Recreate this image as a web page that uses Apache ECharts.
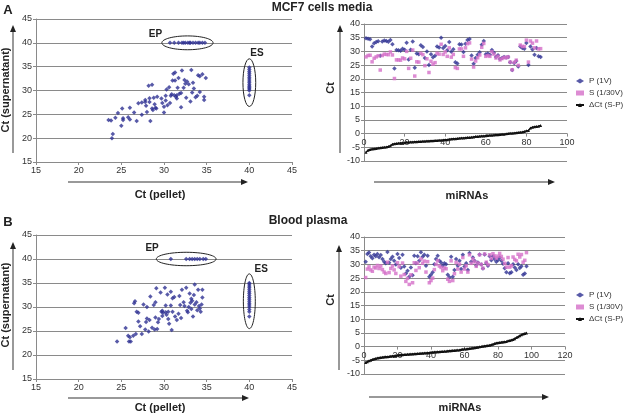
<!DOCTYPE html>
<html>
<head>
<meta charset="utf-8">
<script src="https://cdn.jsdelivr.net/npm/echarts@6.0.0/dist/echarts.min.js"></script>
<style>
html, body { margin: 0; padding: 0; background: #fff; }
#main { width: 625px; height: 418px; }
</style>
</head>
<body>
<div id="main"></div>
<script>
// panel A (MCF7 cells media): Ct pellet vs Ct supernatant
var scatterA = [
  [23.5,23.8],[23.8,23.7],[23.9,20.0],[24.0,20.9],[24.3,24.3],[24.6,25.3],[25.1,26.2],[25.2,24.2],[25.0,22.6],[25.2,23.8],
  [25.8,24.4],[26.0,26.4],[26.0,23.9],[26.5,25.4],[26.8,23.6],[27.0,27.3],[27.4,24.9],[27.8,27.6],[27.8,28.0],[27.9,26.8],
  [28.0,25.5],[28.2,31.0],[28.3,27.6],[28.3,28.4],[28.4,23.6],[28.6,31.2],[28.6,26.2],[28.8,28.5],[28.9,27.1],[29.0,26.4],
  [29.2,28.7],[29.1,26.2],[29.8,27.4],[30.0,25.4],[30.0,26.6],[30.2,28.9],[30.3,30.2],[30.4,26.9],[30.6,30.7],[30.7,27.4],
  [30.8,28.9],[31.0,32.1],[31.1,33.5],[31.3,33.8],[31.3,32.1],[31.4,28.7],[31.5,29.0],[31.6,30.6],[31.7,32.6],[31.8,29.3],
  [32.0,26.5],[32.1,34.2],[32.3,30.6],[32.4,32.2],[32.5,31.4],[32.6,28.5],[32.7,31.9],[32.9,31.3],[33.1,27.7],[33.2,34.3],
  [33.3,29.6],[33.4,31.6],[33.5,30.4],[33.7,28.6],[33.9,28.9],[34.0,33.2],[34.2,33.0],[34.2,29.7],[34.5,33.4],[34.7,28.0],
  [34.7,28.7],[34.9,32.6],[30.9,29.2],[31.5,28.3],[29.7,28.3],[30.2,27.9],[28.7,25.9],[27.4,27.5],[31.2,29.0],[32.0,29.5]
];
var epA = [30.7,31.2,31.7,32.1,32.3,32.5,32.8,33.0,33.1,33.4,33.7,34.0,34.2,34.5,34.8];   // Ct sup = 40
var esA = [29.0,30.0,30.3,30.6,30.9,31.2,31.6,32.0,32.4,32.8,33.2,33.6,34.0,34.4,34.8];   // Ct pellet = 40

// panel A right: per miRNA
var pA = [
  34.8,34.6,34.4,31.8,33.0,33.4,33.7,28.4,33.6,34.0,
  33.8,33.5,34.2,32.6,23.8,30.5,30.4,30.2,31.0,30.6,
  33.2,27.0,30.6,33.6,24.0,29.2,29.0,32.2,31.6,27.6,
  30.0,25.0,29.0,27.9,28.4,31.8,31.4,35.0,31.2,32.0,
  30.4,33.4,29.9,30.8,26.0,25.6,32.6,32.5,29.8,32.8,
  34.2,34.5,28.5,25.5,27.6,28.8,29.7,32.4,33.8,29.0,
  29.2,28.8,30.5,29.5,28.0,28.6,27.2,27.6,28.0,27.8,
  28.0,26.0,23.2,25.8,26.5,24.5,31.8,31.2,31.0,33.1,
  25.0,31.8,30.7,28.8,31.2,28.2,28.0
];
var sA = [
  28.0,28.5,28.6,26.2,27.5,28.0,28.4,23.2,28.5,29.0,
  28.9,28.8,29.8,28.7,20.1,26.9,26.9,26.8,27.6,27.3,
  30.0,23.8,27.5,30.5,21.0,26.2,26.1,29.3,28.8,24.8,
  27.3,22.3,26.4,25.3,25.9,29.3,29.0,32.6,28.9,29.8,
  28.2,31.3,27.9,28.9,24.1,23.8,30.9,30.9,28.2,31.3,
  32.8,33.1,27.2,24.3,26.5,27.7,28.7,31.5,32.9,28.2,
  28.5,28.2,29.9,29.0,27.6,28.2,26.9,27.4,27.8,27.7,
  28.0,26.1,23.3,26.0,26.8,24.9,32.3,31.8,31.8,34.1,
  26.1,33.8,33.0,31.3,33.8,30.9,31.0
];
var dA = [
  -6.8,-6.1,-5.8,-5.6,-5.5,-5.4,-5.3,-5.2,-5.1,-5.0,
  -4.9,-4.7,-4.4,-3.9,-3.7,-3.6,-3.5,-3.4,-3.4,-3.3,
  -3.2,-3.2,-3.1,-3.1,-3.0,-3.0,-2.9,-2.9,-2.8,-2.8,
  -2.7,-2.7,-2.6,-2.6,-2.5,-2.5,-2.4,-2.4,-2.3,-2.2,
  -2.2,-2.1,-2.0,-1.9,-1.9,-1.8,-1.7,-1.6,-1.6,-1.5,
  -1.4,-1.4,-1.3,-1.2,-1.1,-1.1,-1.0,-0.9,-0.9,-0.8,
  -0.7,-0.6,-0.6,-0.5,-0.4,-0.4,-0.3,-0.2,-0.2,-0.1,
  0.0,0.1,0.1,0.2,0.3,0.4,0.5,0.6,0.8,1.0,
  1.1,2.0,2.3,2.5,2.6,2.7,3.0
];

// panel B (Blood plasma)
var scatterB = [
  [24.5,22.8],[25.5,25.6],[25.8,24.0],[25.9,22.8],[26.0,23.7],[26.1,22.8],[26.4,24.0],[26.5,30.8],[26.6,31.2],[26.7,24.4],
  [26.8,29.0],[27.0,28.8],[27.2,26.0],[27.4,24.4],[27.6,30.5],[27.8,25.3],[27.9,26.9],[28.0,27.6],[28.2,24.9],[28.3,27.3],
  [28.4,32.2],[28.6,25.7],[28.8,30.4],[28.9,25.3],[29.0,31.0],[29.1,33.9],[29.2,25.4],[29.3,26.8],[29.4,27.5],[29.6,33.0],
  [29.7,29.0],[29.8,28.1],[29.9,28.8],[30.1,34.0],[30.2,30.3],[30.3,28.4],[30.4,32.6],[30.5,27.5],[30.6,26.5],[30.8,33.2],
  [30.9,25.2],[30.8,30.3],[31.0,29.0],[31.2,32.1],[31.5,27.3],[31.7,28.6],[31.8,32.3],[31.9,30.4],[32.0,27.7],[32.1,33.6],
  [32.3,31.0],[32.4,30.2],[32.6,34.0],[32.7,29.2],[32.8,28.9],[33.0,32.8],[33.1,30.9],[33.2,29.6],[33.3,31.3],[33.4,28.0],
  [33.6,34.7],[33.6,30.5],[33.8,31.0],[33.9,29.3],[34.0,33.6],[34.1,30.2],[34.3,29.0],[34.4,30.5],[34.5,33.6],[34.5,32.0],
  [29.8,29.2],[30.2,28.9],[31.3,28.0],[33.2,31.7],[32.9,30.0],[30.5,29.0],[28.0,30.0],[27.0,27.0],[29.0,27.8],[31.0,31.8],
  [33.5,32.5],[34.2,29.7]
];
var epB = [30.8,32.6,33.0,33.3,33.6,33.9,34.2,34.6,34.9];
var esB = [28.0,29.0,29.5,30.0,30.4,30.8,31.2,31.6,32.0,32.4,32.8,33.2,33.6,34.0,34.4,34.8,35.0];

var pB = [
  31.0,33.8,34.3,33.0,32.2,33.5,33.0,33.8,32.6,33.4,
  32.0,31.0,30.4,34.5,30.6,32.0,32.8,31.3,30.0,33.8,
  32.3,28.8,33.5,29.2,26.7,27.7,25.5,28.9,26.0,33.2,
  30.4,33.0,31.3,34.4,32.8,33.5,29.5,33.2,25.5,26.2,
  27.1,30.1,32.0,33.2,31.3,30.7,29.5,30.4,30.1,26.2,
  25.3,32.8,25.5,28.0,32.0,29.5,31.3,28.3,33.5,29.2,
  30.4,28.0,34.2,31.0,32.5,31.3,29.6,30.7,33.6,30.0,
  28.5,33.6,30.5,29.5,33.0,31.5,33.0,32.0,31.0,31.6,
  32.5,31.3,30.2,28.6,27.1,30.4,26.8,27.1,30.1,28.9,
  28.0,30.1,28.7,29.3,26.2,26.7,29.3
];
var sB = [
  25.2,28.3,29.1,28.0,27.5,29.0,28.7,29.6,28.5,29.4,
  28.1,27.2,26.7,30.8,27.0,28.5,29.4,28.0,26.7,30.6,
  29.2,25.7,30.5,26.3,23.8,24.9,22.7,26.2,23.3,30.6,
  27.8,30.5,28.8,32.0,30.4,31.2,27.2,31.0,23.3,24.1,
  25.0,28.1,30.0,31.3,29.4,28.9,27.7,28.7,28.4,24.6,
  23.8,31.3,24.1,26.6,30.7,28.3,30.1,27.2,32.5,28.3,
  29.5,27.2,33.5,30.4,32.0,30.9,29.3,30.5,33.5,30.0,
  28.6,33.8,30.8,29.9,33.5,32.2,33.9,33.1,32.3,33.0,
  34.0,32.9,31.9,30.4,29.0,32.5,29.0,29.5,32.7,31.8,
  31.3,33.7,32.7,33.6,30.8,31.5,34.3
];
var dB = [
  -5.8,-5.5,-5.2,-5.0,-4.7,-4.5,-4.3,-4.2,-4.1,-4.0,
  -3.9,-3.8,-3.7,-3.7,-3.6,-3.5,-3.4,-3.3,-3.3,-3.2,
  -3.1,-3.1,-3.0,-2.9,-2.9,-2.8,-2.8,-2.7,-2.7,-2.6,
  -2.6,-2.5,-2.5,-2.4,-2.4,-2.3,-2.3,-2.2,-2.2,-2.1,
  -2.1,-2.0,-2.0,-1.9,-1.9,-1.8,-1.8,-1.7,-1.7,-1.6,
  -1.5,-1.5,-1.4,-1.4,-1.3,-1.2,-1.2,-1.1,-1.0,-0.9,
  -0.9,-0.8,-0.7,-0.6,-0.5,-0.4,-0.3,-0.2,-0.1,0.0,
  0.1,0.2,0.3,0.4,0.5,0.7,0.9,1.1,1.3,1.4,
  1.5,1.6,1.7,1.8,1.9,2.1,2.2,2.4,2.6,2.9,
  3.3,3.6,4.0,4.3,4.6,4.8,5.0
];

var legendNames = ['P (1V)', 'S (1/30V)', 'ΔCt (S-P)'];

var NAVY = '#2e3192';
var PINK = '#d46fc8';
var GRID = '#8a8a8a';
var FONT = 'Liberation Sans, Arial, sans-serif';

function idx(arr) {
  return arr.map(function (v, i) { return [i + 1, v]; });
}
function withEllipses(pts, ep, es) {
  var out = pts.slice();
  ep.forEach(function (x) { out.push([x, 40]); });
  es.forEach(function (y) { out.push([40, y]); });
  return out;
}

// x axis; for the miRNA panels it is lifted to the y = 0 line (Excel style)
function xAx(gi, min, max, lift) {
  return {
    gridIndex: gi, type: 'value', min: min, max: max, interval: gi % 2 ? 20 : 5,
    offset: lift ? -lift : 0,
    axisLine: { onZero: false, lineStyle: { color: GRID } },
    axisTick: { show: true, length: 3, lineStyle: { color: GRID } },
    axisLabel: { fontSize: 9, color: '#333', margin: 4 },
    splitLine: { show: false }
  };
}
function yAx(gi, min, max) {
  return {
    gridIndex: gi, type: 'value', min: min, max: max, interval: 5,
    axisLine: { show: true, onZero: false, lineStyle: { color: GRID } },
    axisTick: { show: true, length: 3, lineStyle: { color: GRID } },
    axisLabel: { fontSize: 9, color: '#333', margin: 4 },
    splitLine: { show: true, lineStyle: { color: GRID, width: 1 } }
  };
}

function rightSeries(gi, p, s, d) {
  return [
    { name: legendNames[0], type: 'scatter', xAxisIndex: gi, yAxisIndex: gi, data: idx(p),
      symbol: 'diamond', symbolSize: 4.5, itemStyle: { color: NAVY } },
    { name: legendNames[1], type: 'scatter', xAxisIndex: gi, yAxisIndex: gi, data: idx(s),
      symbol: 'rect', symbolSize: 3.5, itemStyle: { color: PINK } },
    { name: legendNames[2], type: 'line', xAxisIndex: gi, yAxisIndex: gi, data: idx(d),
      symbol: 'triangle', symbolSize: 3, showSymbol: true,
      lineStyle: { color: '#111', width: 1.5 }, itemStyle: { color: '#111' } }
  ];
}

function legendAt(top) {
  return {
    orient: 'vertical', left: 575, top: top, padding: 0, itemGap: 4, itemWidth: 8, itemHeight: 5,
    textStyle: { fontSize: 8, color: '#333' },
    data: [
      { name: legendNames[0], icon: 'diamond' },
      { name: legendNames[1], icon: 'rect' },
      { name: legendNames[2] }
    ]
  };
}

function arrowUp(x, y1, y2) {
  return [
    { type: 'line', shape: { x1: x, y1: y1, x2: x, y2: y2 + 6 }, style: { stroke: '#777', lineWidth: 1.5 } },
    { type: 'polygon', shape: { points: [[x - 3, y2 + 7], [x + 3, y2 + 7], [x, y2]] }, style: { fill: '#222' } }
  ];
}
function arrowRight(y, x1, x2) {
  return [
    { type: 'line', shape: { x1: x1, y1: y, x2: x2 - 6, y2: y }, style: { stroke: '#777', lineWidth: 1.5 } },
    { type: 'polygon', shape: { points: [[x2 - 7, y - 3], [x2 - 7, y + 3], [x2, y]] }, style: { fill: '#222' } }
  ];
}
function txt(x, y, s, font, rot) {
  return { type: 'text', x: x, y: y, rotation: rot || 0,
    style: { text: s, font: font, fill: '#222', textAlign: 'center', textVerticalAlign: 'middle' } };
}

var grids = [
  { left: 36, top: 19, width: 256, height: 143 },
  { left: 364, top: 24, width: 203, height: 137 },
  { left: 36, top: 235, width: 256, height: 144 },
  { left: 364, top: 237, width: 201, height: 137 }
];

var chart = echarts.init(document.getElementById('main'));
var option = {
  animation: false,
  backgroundColor: '#fff',
  textStyle: { fontFamily: FONT },
  grid: grids,
  xAxis: [
    xAx(0, 15, 45, 0),
    xAx(1, 0, 100, grids[1].height * 10 / 50),
    xAx(2, 15, 45, 0),
    xAx(3, 0, 120, grids[3].height * 10 / 50)
  ],
  yAxis: [yAx(0, 15, 45), yAx(1, -10, 40), yAx(2, 15, 45), yAx(3, -10, 40)],
  legend: [legendAt(77), legendAt(291)],
  series: [
    { name: 'A', type: 'scatter', xAxisIndex: 0, yAxisIndex: 0, data: withEllipses(scatterA, epA, esA),
      symbol: 'diamond', symbolSize: 4.5, itemStyle: { color: NAVY } },
    { name: 'B', type: 'scatter', xAxisIndex: 2, yAxisIndex: 2, data: withEllipses(scatterB, epB, esB),
      symbol: 'diamond', symbolSize: 4.5, itemStyle: { color: NAVY } }
  ].concat(rightSeries(1, pA, sA, dA)).concat(rightSeries(3, pB, sB, dB))
};
chart.setOption(option);

// ellipses and labels placed in data units of the left scatter panels
var rings = [
  { g: 0, cx: 32.75, cy: 40, rx: 3.0, ry: 1.45 },
  { g: 0, cx: 40, cy: 31.65, rx: 0.75, ry: 5.0 },
  { g: 2, cx: 32.6, cy: 40, rx: 3.5, ry: 1.4 },
  { g: 2, cx: 40, cy: 31.2, rx: 0.7, ry: 5.7 }
];
var tags = [
  { g: 0, x: 29.0, y: 41.9, t: 'EP' }, { g: 0, x: 40.9, y: 37.8, t: 'ES' },
  { g: 2, x: 28.6, y: 42.2, t: 'EP' }, { g: 2, x: 41.4, y: 37.9, t: 'ES' }
];
var els = [];
rings.forEach(function (r) {
  var c = chart.convertToPixel({ gridIndex: r.g }, [r.cx, r.cy]);
  var e = chart.convertToPixel({ gridIndex: r.g }, [r.cx + r.rx, r.cy + r.ry]);
  els.push({ type: 'ellipse', shape: { cx: c[0], cy: c[1], rx: Math.abs(e[0] - c[0]), ry: Math.abs(e[1] - c[1]) },
    style: { fill: null, stroke: '#222', lineWidth: 1 } });
});
tags.forEach(function (t) {
  var p = chart.convertToPixel({ gridIndex: t.g }, [t.x, t.y]);
  els.push(txt(p[0], p[1], t.t, 'bold 10px ' + FONT));
});

els = els.concat(
  arrowUp(13, 153, 25), arrowRight(182, 68, 248),
  arrowUp(340, 153, 25), arrowRight(182, 374, 555),
  arrowUp(13, 370, 242), arrowRight(398, 68, 249),
  arrowUp(339, 370, 245), arrowRight(397, 369, 549),
  [
    txt(322, 8, 'MCF7 cells media', 'bold 12px ' + FONT),
    txt(308, 221, 'Blood plasma', 'bold 12px ' + FONT),
    txt(8, 10, 'A', 'bold 13px ' + FONT),
    txt(8, 222, 'B', 'bold 13px ' + FONT),
    txt(6, 90, 'Ct (supernatant)', 'bold 11px ' + FONT, Math.PI / 2),
    txt(6, 305, 'Ct (supernatant)', 'bold 11px ' + FONT, Math.PI / 2),
    txt(160, 195, 'Ct (pellet)', 'bold 11px ' + FONT),
    txt(160, 408, 'Ct (pellet)', 'bold 11px ' + FONT),
    txt(331, 88, 'Ct', 'bold 11px ' + FONT, Math.PI / 2),
    txt(331, 300, 'Ct', 'bold 11px ' + FONT, Math.PI / 2),
    txt(467, 196, 'miRNAs', 'bold 11px ' + FONT),
    txt(460, 408, 'miRNAs', 'bold 11px ' + FONT)
  ]
);
chart.setOption({ graphic: { elements: els } });
</script>
</body>
</html>
